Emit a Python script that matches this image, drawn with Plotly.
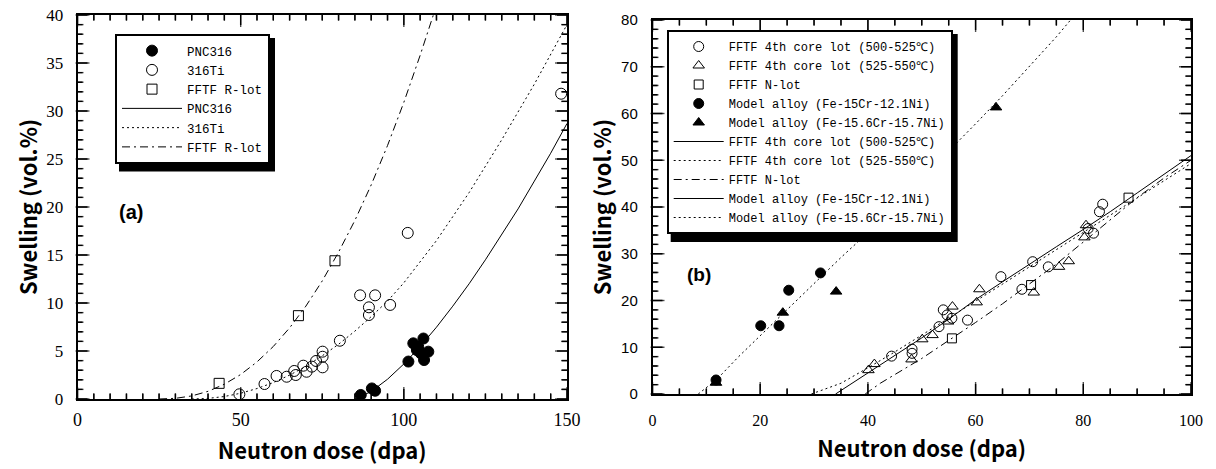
import plotly.graph_objects as go

W, H = 1216, 469

# ---------------- Panel (a) data ----------------
pnc_x = [86.8, 90.2, 91.2, 101.4, 102.9, 104.4, 104.0, 105.2, 106.0, 106.2, 107.5]
pnc_y = [0.42, 1.1, 0.86, 3.9, 5.8, 5.45, 5.1, 4.76, 6.3, 4.06, 4.93]
ti_x = [49.6, 57.3, 61.0, 64.1, 66.4, 66.9, 69.2, 70.2, 71.8, 73.1, 75.1, 75.1, 75.1,
        80.4, 86.6, 91.2, 89.3, 89.3, 95.8, 101.2, 148.2]
ti_y = [0.49, 1.56, 2.4, 2.32, 2.92, 2.5, 3.47, 2.84, 3.37, 3.96, 4.93, 4.4, 3.3,
        6.07, 10.8, 10.8, 9.55, 8.75, 9.8, 17.3, 31.8]
rlot_x = [43.4, 67.7, 78.9]
rlot_y = [1.63, 8.68, 14.4]

pnc_fit_x = [85, 90, 95, 100, 105, 110, 115, 120, 125, 130, 135, 140, 145, 150]
pnc_fit_y = [0, 0.78, 2.06, 3.65, 5.47, 7.48, 9.67, 12.0, 14.5, 17.1, 19.8, 22.7, 25.6, 28.7]
ti_fit_x = [35, 40, 45, 50, 55, 60, 65, 70, 75, 80, 85, 90, 95, 100, 110, 120, 130, 140, 150]
ti_fit_y = [0, 0.06, 0.26, 0.6, 1.09, 1.71, 2.49, 3.4, 4.5, 5.7, 7.07, 8.58, 10.2, 12.1,
            16.5, 21.5, 27.0, 32.8, 39.0]
rlot_fit_x = [25, 30, 35, 40, 45, 50, 55, 60, 65, 70, 75, 80, 85, 90, 95, 100, 105, 110]
rlot_fit_y = [0, 0.07, 0.32, 0.8, 1.54, 2.55, 3.86, 5.47, 7.41, 9.68, 12.3, 15.3, 18.6,
              22.3, 26.4, 30.9, 35.8, 41.0]

# ---------------- Panel (b) data ----------------
c500_x = [44.4, 48.2, 48.2, 53.2, 54.0, 54.7, 55.6, 58.5, 64.7, 68.6, 70.6, 73.5, 80.9, 81.9, 83.0, 83.6]
c500_y = [8.1, 9.6, 8.7, 14.4, 18.0, 16.9, 16.2, 15.8, 25.1, 22.4, 28.3, 27.2, 35.4, 34.4, 39.0, 40.6]
c525_x = [40.1, 41.2, 48.1, 50.1, 52.0, 54.9, 55.7, 60.2, 60.7, 70.8, 75.5, 77.3, 80.2, 80.5]
c525_y = [5.1, 6.4, 7.4, 11.7, 12.6, 15.5, 18.7, 19.6, 22.4, 21.7, 27.2, 28.4, 33.5, 36.1]
nlot_x = [55.6, 70.3, 88.4]
nlot_y = [11.9, 23.3, 42.0]
m121_x = [11.8, 20.1, 23.5, 25.3, 31.2]
m121_y = [3.0, 14.6, 14.6, 22.2, 25.9]
m157_x = [11.8, 24.2, 34.1, 63.8]
m157_y = [2.4, 17.4, 21.9, 61.3]

c500_fit_x = [34, 36, 40, 45, 50, 55, 60, 65, 70, 75, 80, 85, 90, 95, 100]
c500_fit_y = [0, 1.5, 4.6, 8.3, 12.0, 16.0, 20.2, 24.0, 27.8, 31.5, 35.2, 39.0, 43.0, 47.0, 51.0]
c525_fit_x = [29.5, 35, 40, 45, 50, 55, 60, 65, 70, 75, 80, 85, 90, 95, 100]
c525_fit_y = [0, 2.3, 5.6, 9.0, 12.6, 16.2, 19.8, 23.5, 27.2, 30.9, 34.6, 38.3, 42.0, 45.7, 49.3]
nlot_fit_x = [39.5, 42.3, 50, 55, 60, 65, 70, 75, 80, 85, 90, 95, 100]
nlot_fit_y = [0, 2.3, 7.6, 11.4, 15.3, 19.3, 23.6, 27.8, 32.5, 37.2, 42.0, 46.2, 50.0]
m121_fit_x = [None]
m121_fit_y = [None]
m157_fit_x = [8.5, 12, 16, 20, 24, 30, 35, 40, 45, 50, 55, 60, 65, 70, 75, 78]
m157_fit_y = [0, 3.2, 8.0, 12.5, 17.0, 23.6, 29.2, 34.5, 40.3, 46.0, 51.8, 57.8, 63.8, 70.0, 76.4, 80.5]

# axis ranges
xa_range, ya_range = [0, 150], [0, 40]
xb_range, yb_range = [0, 100], [0, 80]

# subplot frames in pixels: (left, right, top, bottom)
FRAME_A = (77.5, 567, 15, 399)
FRAME_B = (652.5, 1191, 20, 394)

fig = go.Figure()

DOT = "2px,3px"
DASHDOT = "8px,4px,2px,4px"

def line_tr(x, y, name, dash, xa, ya, leg, rank):
    return go.Scatter(x=x, y=y, mode="lines", name=name, xaxis=xa, yaxis=ya,
                      legend=leg, legendrank=rank,
                      line=dict(color="black", width=1, dash=dash))

def mark_tr(x, y, name, symbol, size, xa, ya, leg, rank):
    return go.Scatter(x=x, y=y, mode="markers", name=name, xaxis=xa, yaxis=ya,
                      legend=leg, legendrank=rank, cliponaxis=False,
                      marker=dict(symbol=symbol, size=size, color="black",
                                  line=dict(color="black", width=1)))

# inside tick marks on all four sides
MAJ, MIN = 10, 5

def tick_traces(xa, ya, xr, yr, frame, xmaj, xmin, ymaj, ymin):
    l, r, t, b = frame
    ux = (xr[1] - xr[0]) / (r - l)   # data units per pixel (x)
    uy = (yr[1] - yr[0]) / (b - t)   # data units per pixel (y)
    tx, ty = [], []
    mx, my, ms, msym = [], [], [], []
    n = int(round((xr[1] - xr[0]) / xmin))
    for i in range(n + 1):
        v = xr[0] + i * xmin
        ln = MAJ if abs(v / xmaj - round(v / xmaj)) < 1e-9 else MIN
        tx += [v, v, None, v, v, None]
        ty += [yr[0], yr[0] + ln * uy, None, yr[1], yr[1] - ln * uy, None]
        mx += [v, v]
        my += [yr[0] + ln * uy / 2, yr[1] - ln * uy / 2]
        ms += [ln, ln]
        msym += ["line-ns", "line-ns"]
    n = int(round((yr[1] - yr[0]) / ymin))
    for i in range(n + 1):
        v = yr[0] + i * ymin
        ln = MAJ if abs(v / ymaj - round(v / ymaj)) < 1e-9 else MIN
        tx += [xr[0], xr[0] + ln * ux, None, xr[1], xr[1] - ln * ux, None]
        ty += [v, v, None, v, v, None]
        mx += [xr[0] + ln * ux / 2, xr[1] - ln * ux / 2]
        my += [v, v]
        ms += [ln, ln]
        msym += ["line-ew", "line-ew"]
    lines = go.Scatter(x=tx, y=ty, mode="lines", xaxis=xa, yaxis=ya, showlegend=False,
                       hoverinfo="skip", connectgaps=False, cliponaxis=False,
                       line=dict(color="black", width=1.4))
    marks = go.Scatter(x=mx, y=my, mode="markers", xaxis=xa, yaxis=ya, showlegend=False,
                       hoverinfo="skip", cliponaxis=False,
                       marker=dict(symbol=msym, size=ms, color="black",
                                   line=dict(color="black", width=1.4)))
    return [lines, marks]

for tr in tick_traces("x", "y", xa_range, ya_range, FRAME_A, 50, 5, 5, 1):
    fig.add_trace(tr)
for tr in tick_traces("x2", "y2", xb_range, yb_range, FRAME_B, 20, 5, 10, 2):
    fig.add_trace(tr)

# panel (a)
fig.add_trace(line_tr(pnc_fit_x, pnc_fit_y, "PNC316", "solid", "x", "y", "legend", 4))
fig.add_trace(line_tr(ti_fit_x, ti_fit_y, "316Ti", DOT, "x", "y", "legend", 5))
fig.add_trace(line_tr(rlot_fit_x, rlot_fit_y, "FFTF R-lot", DASHDOT, "x", "y", "legend", 6))
fig.add_trace(mark_tr(pnc_x, pnc_y, "PNC316", "circle", 11, "x", "y", "legend", 1))
fig.add_trace(mark_tr(ti_x, ti_y, "316Ti", "circle-open", 11, "x", "y", "legend", 2))
fig.add_trace(mark_tr(rlot_x, rlot_y, "FFTF R-lot", "square-open", 10, "x", "y", "legend", 3))

# panel (b)
L1 = "FFTF 4th core lot (500-525℃)"
L2 = "FFTF 4th core lot (525-550℃)"
L3 = "FFTF N-lot"
L4 = "Model alloy (Fe-15Cr-12.1Ni)"
L5 = "Model alloy (Fe-15.6Cr-15.7Ni)"
fig.add_trace(line_tr(c500_fit_x, c500_fit_y, L1, "solid", "x2", "y2", "legend2", 6))
fig.add_trace(line_tr(c525_fit_x, c525_fit_y, L2, DOT, "x2", "y2", "legend2", 7))
fig.add_trace(line_tr(nlot_fit_x, nlot_fit_y, L3, DASHDOT, "x2", "y2", "legend2", 8))
fig.add_trace(line_tr(m121_fit_x, m121_fit_y, L4, "solid", "x2", "y2", "legend2", 9))
fig.add_trace(line_tr(m157_fit_x, m157_fit_y, L5, DOT, "x2", "y2", "legend2", 10))
fig.add_trace(mark_tr(c500_x, c500_y, L1, "circle-open", 10, "x2", "y2", "legend2", 1))
fig.add_trace(mark_tr(c525_x, c525_y, L2, "triangle-up-open", 10, "x2", "y2", "legend2", 2))
fig.add_trace(mark_tr(nlot_x, nlot_y, L3, "square-open", 9, "x2", "y2", "legend2", 3))
fig.add_trace(mark_tr(m121_x, m121_y, L4, "circle", 10, "x2", "y2", "legend2", 4))
fig.add_trace(mark_tr(m157_x, m157_y, L5, "triangle-up", 10, "x2", "y2", "legend2", 5))

def px_x(p):
    return p / W

def px_y(p):
    return 1 - p / H

TITLE_FONT = dict(family="Noto Sans CJK SC", size=22, color="black", weight="bold")

def axis(frame, horiz, rng, dtick, fontfam, fsize, title, standoff, lstand, anchor):
    l, r, t, b = frame
    domain = [px_x(l), px_x(r)] if horiz else [px_y(b), px_y(t)]
    return dict(domain=domain, range=rng, dtick=dtick, tick0=0, autorange=False,
                showgrid=False, zeroline=False, automargin=False,
                showline=True, linecolor="black", linewidth=1.5, mirror=True,
                ticks="", ticklabelstandoff=lstand,
                tickfont=dict(family=fontfam, size=fsize, color="black"),
                title=dict(text=title, font=TITLE_FONT, standoff=standoff),
                anchor=anchor)

fig.update_layout(
    xaxis=axis(FRAME_A, True, xa_range, 50, "Liberation Serif", 18,
               "Neutron dose (dpa)", 14, 4, "y"),
    yaxis=axis(FRAME_A, False, ya_range, 5, "Liberation Serif", 17,
               "Swelling (vol.%)", 3, 9, "x"),
    xaxis2=axis(FRAME_B, True, xb_range, 20, "Liberation Serif", 16,
                "Neutron dose (dpa)", 14, 11, "y2"),
    yaxis2=axis(FRAME_B, False, yb_range, 10, "Liberation Sans", 15,
                "Swelling (vol.%)", 3, 10, "x2"),
)

LEG_COMMON = dict(bgcolor="white", bordercolor="black", borderwidth=2,
                  xanchor="left", yanchor="top", traceorder="normal",
                  itemclick=False, itemdoubleclick=False)
L_TOP, L_LEFT = 34, 115
R_TOP, R_LEFT = 30, 666.7
fig.update_layout(
    legend=dict(x=px_x(L_LEFT), y=px_y(L_TOP), itemwidth=60,
                font=dict(family="Liberation Mono", size=12.5, color="black"), **LEG_COMMON),
    legend2=dict(x=px_x(R_LEFT), y=px_y(R_TOP), itemwidth=50,
                 font=dict(family="Liberation Mono", size=12, color="black"), **LEG_COMMON),
)

# legend drop shadows (decorative): box = (left, top, width, height) estimated in px
shadows = [(L_LEFT, L_TOP, 154, 129.5), (R_LEFT, R_TOP, 285, 204)]
for (x0, y0, w, h) in shadows:
    fig.add_shape(type="rect", xref="paper", yref="paper",
                  x0=px_x(x0 + 4), x1=px_x(x0 + w + 6), y0=px_y(y0 + 4), y1=px_y(y0 + h + 8),
                  fillcolor="black", line=dict(width=0), layer="above")

fig.add_annotation(x=16.4, y=19.5, xref="x", yref="y", text="<b>(a)</b>", showarrow=False,
                   font=dict(family="Liberation Sans", size=20, color="black"))
fig.add_annotation(x=8.6, y=25.6, xref="x2", yref="y2", text="<b>(b)</b>", showarrow=False,
                   font=dict(family="Liberation Sans", size=19, color="black"))

fig.update_layout(width=W, height=H, margin=dict(l=0, r=0, t=0, b=0, autoexpand=False),
                  paper_bgcolor="white", plot_bgcolor="white", showlegend=True)

fig.write_html("out.html", config={"displayModeBar": False})
